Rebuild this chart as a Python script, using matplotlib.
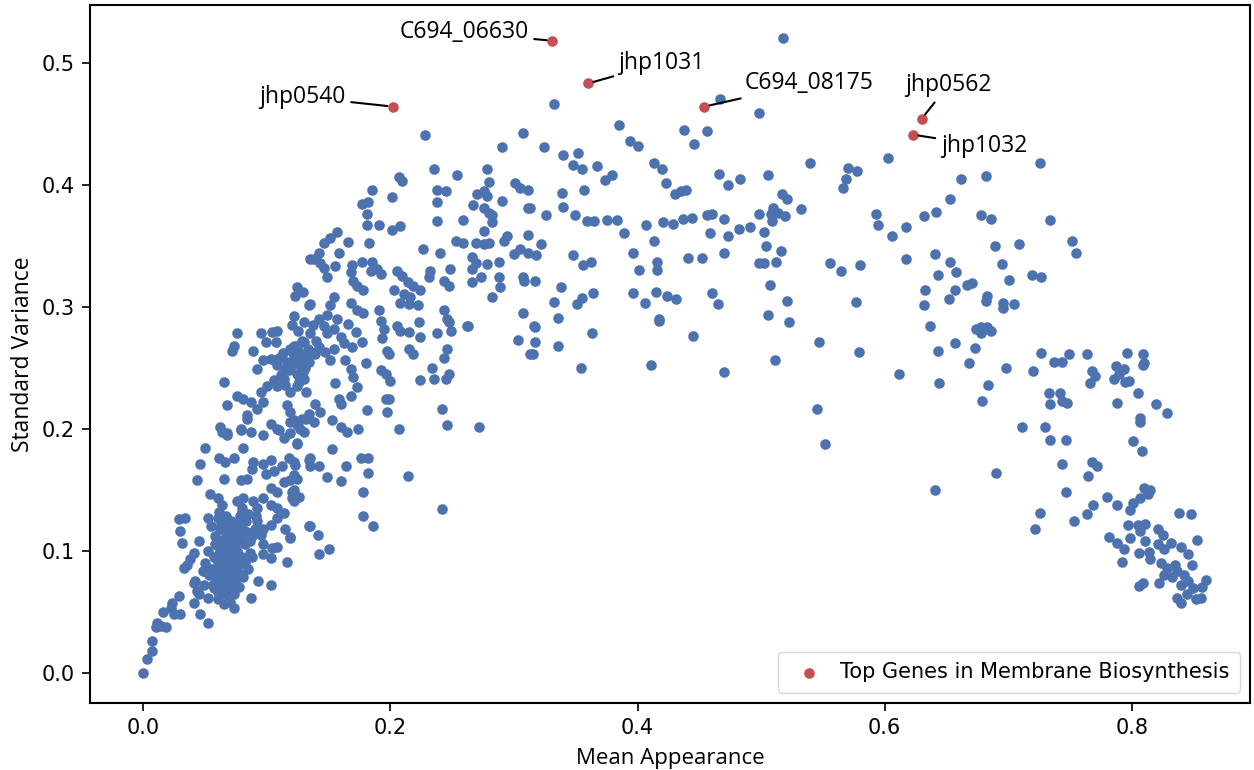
import matplotlib
matplotlib.use("Agg")
import matplotlib.pyplot as plt
import numpy as np

# ---------------- data ----------------
# lower-left ramp
ramp_pts = [(0.000,0.000),(0.003,0.011),(0.007,0.018),(0.007,0.026),(0.010,0.037),(0.014,0.038),
 (0.018,0.037),(0.011,0.041),(0.016,0.050),(0.022,0.053),(0.025,0.048),(0.030,0.048),(0.029,0.063),
 (0.023,0.057),(0.041,0.057),(0.046,0.048),(0.052,0.041),(0.043,0.067),(0.049,0.072),(0.041,0.073),
 (0.045,0.064),(0.052,0.061),(0.060,0.060),(0.065,0.056),(0.070,0.058),(0.073,0.053),(0.057,0.069),
 (0.062,0.068),(0.068,0.067),(0.029,0.126),(0.030,0.116),(0.031,0.106),(0.034,0.127),(0.033,0.086),
 (0.035,0.088),(0.038,0.093),(0.041,0.098),(0.045,0.108),(0.052,0.127),(0.042,0.075),(0.054,0.146),
 (0.060,0.143),(0.064,0.137),(0.061,0.132)]

# dense core near (0.07, 0.10)
core_pts = [(0.055,0.120),(0.058,0.112),(0.062,0.118),(0.066,0.110),(0.060,0.104),(0.064,0.099),
 (0.068,0.104),(0.072,0.108),(0.070,0.096),(0.066,0.090),(0.073,0.092),(0.076,0.100),(0.079,0.112),
 (0.075,0.118),(0.071,0.124),(0.067,0.128),(0.063,0.085),(0.060,0.090),(0.057,0.095),(0.055,0.085),
 (0.058,0.078),(0.062,0.073),(0.067,0.080),(0.071,0.085),(0.076,0.088),(0.078,0.081),(0.074,0.076),
 (0.070,0.070),(0.080,0.095),(0.082,0.105),(0.084,0.115),(0.078,0.123),(0.052,0.100),(0.050,0.090),
 (0.053,0.080),(0.048,0.083),(0.065,0.065),(0.069,0.062),(0.073,0.064),(0.077,0.070),(0.081,0.078),
 (0.085,0.085),(0.088,0.095),(0.086,0.108),(0.090,0.118),(0.091,0.128),(0.085,0.130),(0.080,0.132),
 (0.058,0.105),(0.061,0.097),(0.064,0.108),(0.067,0.115),(0.069,0.100),(0.072,0.094),(0.074,0.104),
 (0.077,0.109),(0.081,0.117),(0.083,0.124),(0.063,0.122),(0.060,0.127),(0.069,0.120),(0.073,0.113),
 (0.076,0.095),(0.079,0.089),(0.074,0.083),(0.070,0.078),(0.066,0.074),(0.061,0.080),(0.059,0.086),
 (0.064,0.092),(0.068,0.088),(0.072,0.080),(0.082,0.090),(0.086,0.098),(0.088,0.112),(0.056,0.072),
 (0.060,0.066),(0.078,0.128)]

# left cluster, 0.05-0.13 / 0.10-0.21
left_low_pts = [(0.050,0.184),(0.046,0.171),(0.043,0.158),(0.061,0.176),(0.066,0.173),(0.073,0.176),
 (0.081,0.184),(0.065,0.159),(0.079,0.158),(0.084,0.159),(0.064,0.197),(0.068,0.195),(0.079,0.199),
 (0.087,0.197),(0.097,0.195),(0.084,0.208),(0.103,0.204),(0.110,0.199),(0.114,0.192),(0.119,0.196),
 (0.124,0.188),(0.118,0.176),(0.122,0.173),(0.112,0.169),(0.106,0.165),(0.099,0.163),(0.097,0.171),
 (0.103,0.174),(0.089,0.173),(0.088,0.167),(0.103,0.151),(0.108,0.148),(0.114,0.156),(0.119,0.158),
 (0.122,0.150),(0.120,0.143),(0.097,0.143),(0.089,0.141),(0.081,0.143),(0.076,0.141),(0.080,0.135),
 (0.092,0.135),(0.103,0.137),(0.108,0.135),(0.114,0.131),(0.108,0.127),(0.103,0.121),(0.097,0.118),
 (0.092,0.124),(0.095,0.113),(0.097,0.105),(0.104,0.102),(0.108,0.103),(0.115,0.118),(0.119,0.111),
 (0.116,0.091),(0.103,0.094),(0.097,0.097),(0.093,0.075),(0.103,0.072),(0.087,0.061),(0.134,0.120),
 (0.124,0.159),(0.126,0.144),(0.134,0.174)]

# left cluster, 0.06-0.14 / 0.19-0.34
left_mid_pts = [(0.135,0.339),(0.134,0.301),(0.122,0.292),(0.076,0.278),(0.073,0.268),(0.072,0.264),
 (0.095,0.278),(0.104,0.279),(0.108,0.280),(0.099,0.271),(0.107,0.271),(0.089,0.264),(0.092,0.249),
 (0.097,0.256),(0.103,0.257),(0.108,0.252),(0.114,0.248),(0.119,0.265),(0.124,0.268),(0.130,0.271),
 (0.122,0.257),(0.127,0.252),(0.132,0.257),(0.065,0.238),(0.068,0.219),(0.076,0.227),(0.081,0.224),
 (0.087,0.222),(0.095,0.230),(0.100,0.235),(0.108,0.235),(0.114,0.241),(0.119,0.230),(0.124,0.235),
 (0.130,0.241),(0.132,0.230),(0.084,0.211),(0.092,0.216),(0.097,0.222),(0.062,0.201),(0.068,0.196),
 (0.079,0.200),(0.108,0.200),(0.119,0.205),(0.124,0.203),(0.130,0.197),(0.132,0.208),(0.116,0.219),
 (0.119,0.214),(0.120,0.285),(0.125,0.280),(0.130,0.287),(0.128,0.272),(0.122,0.268),(0.133,0.265),
 (0.126,0.258),(0.131,0.250),(0.120,0.252),(0.135,0.278),(0.137,0.285),(0.124,0.245),
 (0.110,0.258),(0.113,0.262),(0.116,0.255),(0.118,0.248),(0.121,0.262),(0.125,0.264),(0.128,0.260),
 (0.111,0.244),(0.106,0.240),(0.115,0.236),(0.126,0.238),(0.129,0.246),(0.134,0.255),(0.137,0.262),
 (0.140,0.272)]

# upper-left arc, 0.12-0.31 / 0.28-0.45
arc_pts = [(0.228,0.441),(0.307,0.442),(0.290,0.431),(0.235,0.413),(0.254,0.408),(0.278,0.413),
 (0.207,0.406),(0.209,0.403),(0.280,0.402),(0.301,0.401),(0.305,0.397),(0.311,0.396),(0.185,0.396),
 (0.238,0.396),(0.245,0.395),(0.238,0.386),(0.270,0.392),(0.276,0.395),(0.278,0.391),(0.201,0.390),
 (0.177,0.384),(0.182,0.386),(0.290,0.387),(0.311,0.381),(0.267,0.383),(0.276,0.381),(0.280,0.377),
 (0.282,0.375),(0.181,0.376),(0.181,0.367),(0.191,0.367),(0.201,0.363),(0.208,0.366),(0.238,0.370),
 (0.259,0.371),(0.282,0.369),(0.276,0.362),(0.157,0.361),(0.151,0.356),(0.146,0.352),(0.166,0.353),
 (0.183,0.352),(0.226,0.347),(0.240,0.344),(0.253,0.354),(0.259,0.352),(0.269,0.352),(0.276,0.351),
 (0.280,0.352),(0.294,0.358),(0.292,0.354),(0.311,0.359),(0.305,0.347),(0.300,0.343),(0.311,0.344),
 (0.142,0.344),(0.138,0.339),(0.143,0.336),(0.146,0.332),(0.158,0.344),(0.155,0.333),(0.169,0.334),
 (0.177,0.337),(0.185,0.337),(0.189,0.331),(0.192,0.327),(0.184,0.329),(0.266,0.341),(0.269,0.336),
 (0.266,0.331),(0.278,0.335),(0.288,0.337),(0.232,0.329),(0.231,0.324),(0.248,0.331),(0.205,0.329),
 (0.209,0.325),(0.214,0.320),(0.266,0.320),(0.273,0.324),(0.288,0.324),(0.289,0.316),(0.307,0.324),
 (0.308,0.321),(0.168,0.328),(0.170,0.321),(0.173,0.317),(0.178,0.314),(0.149,0.324),(0.124,0.316),
 (0.129,0.312),(0.123,0.309),(0.135,0.302),(0.154,0.308),(0.151,0.301),(0.203,0.314),(0.211,0.310),
 (0.216,0.308),(0.208,0.303),(0.215,0.302),(0.222,0.301),(0.224,0.314),(0.218,0.317),(0.243,0.321),
 (0.247,0.317),(0.282,0.308),(0.307,0.295),(0.168,0.303),(0.173,0.297),(0.178,0.295),(0.191,0.297),
 (0.243,0.297),(0.246,0.290),(0.142,0.290),(0.149,0.293),(0.157,0.290),(0.262,0.284)]

# middle-left, 0.12-0.32 / 0.09-0.29
mid_pts = [(0.146,0.284),(0.154,0.282),(0.149,0.278),(0.160,0.275),(0.166,0.286),(0.172,0.279),
 (0.177,0.271),(0.169,0.267),(0.162,0.270),(0.154,0.265),(0.147,0.263),(0.142,0.267),(0.139,0.261),
 (0.151,0.256),(0.163,0.256),(0.168,0.249),(0.170,0.242),(0.173,0.234),(0.192,0.288),(0.195,0.282),
 (0.193,0.274),(0.197,0.264),(0.199,0.261),(0.192,0.248),(0.196,0.245),(0.200,0.239),(0.180,0.254),
 (0.205,0.284),(0.208,0.280),(0.215,0.279),(0.223,0.287),(0.224,0.275),(0.215,0.265),(0.218,0.261),
 (0.238,0.278),(0.247,0.287),(0.249,0.280),(0.246,0.265),(0.243,0.258),(0.234,0.250),(0.235,0.241),
 (0.224,0.240),(0.245,0.241),(0.247,0.245),(0.263,0.284),(0.303,0.273),(0.313,0.261),(0.196,0.224),
 (0.199,0.224),(0.197,0.214),(0.181,0.215),(0.207,0.200),(0.242,0.216),(0.246,0.203),(0.272,0.201),
 (0.214,0.161),(0.242,0.134),(0.155,0.237),(0.168,0.227),(0.158,0.224),(0.160,0.220),(0.139,0.220),
 (0.143,0.214),(0.153,0.207),(0.160,0.201),(0.165,0.197),(0.174,0.200),(0.128,0.208),(0.134,0.212),
 (0.138,0.205),(0.122,0.207),(0.127,0.200),(0.124,0.187),(0.153,0.183),(0.135,0.176),(0.142,0.169),
 (0.135,0.169),(0.123,0.170),(0.122,0.162),(0.164,0.169),(0.176,0.176),(0.182,0.176),(0.182,0.164),
 (0.149,0.160),(0.160,0.157),(0.178,0.148),(0.120,0.148),(0.122,0.141),(0.178,0.128),(0.186,0.120),
 (0.135,0.120),(0.141,0.113),(0.150,0.101),(0.142,0.097),(0.119,0.110)]

# centre, 0.30-0.50 / 0.24-0.47
centre_pts = [(0.467,0.470),(0.498,0.459),(0.332,0.466),(0.385,0.449),(0.438,0.445),(0.456,0.444),
 (0.446,0.433),(0.394,0.436),(0.400,0.432),(0.324,0.431),(0.340,0.424),(0.352,0.426),(0.348,0.416),
 (0.355,0.413),(0.367,0.415),(0.374,0.404),(0.379,0.408),(0.413,0.418),(0.420,0.413),(0.423,0.401),
 (0.466,0.409),(0.473,0.400),(0.483,0.405),(0.430,0.392),(0.435,0.395),(0.439,0.396),(0.339,0.393),
 (0.357,0.396),(0.313,0.381),(0.326,0.375),(0.340,0.382),(0.349,0.375),(0.359,0.370),(0.365,0.370),
 (0.375,0.371),(0.383,0.371),(0.407,0.367),(0.421,0.369),(0.429,0.368),(0.437,0.372),(0.444,0.373),
 (0.456,0.375),(0.460,0.376),(0.470,0.372),(0.482,0.364),(0.491,0.365),(0.498,0.376),(0.389,0.360),
 (0.413,0.354),(0.459,0.360),(0.473,0.358),(0.322,0.351),(0.318,0.342),(0.348,0.342),(0.356,0.334),
 (0.362,0.337),(0.396,0.344),(0.416,0.337),(0.416,0.330),(0.401,0.330),(0.441,0.340),(0.452,0.340),
 (0.470,0.344),(0.498,0.336),(0.317,0.321),(0.338,0.316),(0.332,0.304),(0.351,0.302),(0.355,0.307),
 (0.364,0.311),(0.336,0.291),(0.396,0.311),(0.406,0.303),(0.415,0.312),(0.424,0.309),(0.431,0.306),
 (0.417,0.290),(0.460,0.311),(0.465,0.302),(0.316,0.284),(0.317,0.283),(0.317,0.271),(0.315,0.261),
 (0.336,0.268),(0.363,0.278),(0.354,0.250),(0.417,0.288),(0.411,0.252),(0.445,0.276),(0.470,0.246)]

# right-centre, 0.50-0.70 / 0.15-0.52
right_pts = [(0.518,0.520),(0.540,0.418),(0.603,0.422),(0.506,0.408),(0.570,0.414),(0.578,0.411),
 (0.569,0.405),(0.566,0.397),(0.662,0.405),(0.682,0.407),(0.653,0.388),(0.517,0.392),(0.521,0.388),
 (0.510,0.381),(0.508,0.376),(0.514,0.377),(0.519,0.374),(0.509,0.370),(0.532,0.380),(0.502,0.361),
 (0.504,0.350),(0.516,0.346),(0.502,0.336),(0.512,0.337),(0.507,0.318),(0.521,0.305),(0.506,0.293),
 (0.523,0.287),(0.556,0.336),(0.565,0.329),(0.580,0.334),(0.577,0.304),(0.593,0.376),(0.595,0.367),
 (0.606,0.358),(0.617,0.365),(0.617,0.339),(0.632,0.374),(0.642,0.378),(0.678,0.375),(0.686,0.372),
 (0.689,0.350),(0.641,0.343),(0.653,0.337),(0.643,0.326),(0.658,0.328),(0.633,0.314),(0.632,0.301),
 (0.657,0.314),(0.652,0.306),(0.667,0.318),(0.671,0.319),(0.683,0.309),(0.682,0.305),(0.637,0.284),
 (0.678,0.283),(0.683,0.283),(0.547,0.271),(0.511,0.256),(0.579,0.263),(0.612,0.245),(0.545,0.216),
 (0.552,0.187),(0.641,0.150),(0.643,0.264),(0.657,0.270),(0.673,0.266),(0.668,0.254),(0.674,0.282),
 (0.680,0.282),(0.686,0.280),(0.678,0.278),(0.644,0.237),(0.684,0.236),(0.679,0.223),(0.690,0.164)]

# right tail, 0.69-0.87 / 0.05-0.42
tail_pts = [(0.726,0.418),(0.734,0.371),(0.709,0.351),(0.752,0.354),(0.755,0.344),(0.695,0.335),
 (0.701,0.322),(0.719,0.326),(0.727,0.324),(0.696,0.303),(0.696,0.299),(0.705,0.302),(0.727,0.262),
 (0.737,0.255),(0.744,0.255),(0.749,0.261),(0.764,0.261),(0.768,0.247),(0.770,0.243),(0.766,0.237),
 (0.698,0.250),(0.720,0.247),(0.796,0.262),(0.809,0.261),(0.810,0.254),(0.809,0.252),(0.787,0.251),
 (0.794,0.249),(0.790,0.245),(0.786,0.241),(0.795,0.238),(0.798,0.239),(0.733,0.229),(0.734,0.220),
 (0.742,0.229),(0.744,0.223),(0.748,0.221),(0.788,0.221),(0.805,0.229),(0.820,0.220),(0.829,0.213),
 (0.807,0.209),(0.807,0.205),(0.711,0.201),(0.730,0.201),(0.734,0.191),(0.747,0.191),(0.801,0.190),
 (0.808,0.182),(0.744,0.171),(0.768,0.173),(0.772,0.169),(0.765,0.161),(0.747,0.148),(0.726,0.131),
 (0.722,0.118),(0.753,0.124),(0.764,0.130),(0.769,0.137),(0.780,0.144),(0.788,0.137),(0.810,0.151),
 (0.815,0.150),(0.813,0.146),(0.807,0.143),(0.801,0.139),(0.799,0.133),(0.838,0.131),(0.848,0.130),
 (0.853,0.109),(0.797,0.121),(0.805,0.121),(0.811,0.122),(0.821,0.118),(0.825,0.113),(0.782,0.111),
 (0.788,0.106),(0.794,0.101),(0.792,0.091),(0.799,0.110),(0.807,0.116),(0.811,0.108),(0.806,0.098),
 (0.814,0.099),(0.815,0.093),(0.821,0.105),(0.826,0.101),(0.832,0.106),(0.840,0.103),(0.846,0.097),
 (0.849,0.088),(0.824,0.090),(0.829,0.086),(0.835,0.088),(0.837,0.083),(0.833,0.078),(0.826,0.080),
 (0.842,0.080),(0.840,0.072),(0.846,0.075),(0.850,0.069),(0.845,0.064),(0.837,0.061),(0.840,0.057),
 (0.852,0.060),(0.856,0.061),(0.860,0.076),(0.857,0.070),(0.822,0.073),(0.809,0.073),(0.806,0.071)]

# highlighted genes
top_genes = ["jhp0540", "C694_06630", "jhp1031", "C694_08175", "jhp0562", "jhp1032"]
top_x = [0.202, 0.331, 0.360, 0.454, 0.630, 0.623]
top_y = [0.464, 0.518, 0.483, 0.464, 0.454, 0.441]

legend_label = "Top Genes in Membrane Biosynthesis"
x_label = "Mean Appearance"
y_label = "Standard Variance"

# ---------------- plotting ----------------
all_pts = (ramp_pts + core_pts + left_low_pts + left_mid_pts + arc_pts + mid_pts
           + centre_pts + right_pts + tail_pts)
bx = [p[0] for p in all_pts]
by = [p[1] for p in all_pts]

BLUE = "#4C72B0"
RED = "#C44E52"
LABEL_FONT = ["Open Sans", "DejaVu Sans"]

fig = plt.figure(figsize=(12.54, 7.70), dpi=100)
ax = fig.add_axes([0.072, 0.087, 0.925, 0.906])

ax.scatter(bx, by, s=58, color=BLUE, linewidths=0, zorder=2)
ax.scatter(top_x, top_y, s=58, color=RED, linewidths=0, zorder=3, label=legend_label)

# annotation offsets in points and alignment
offsets = [(-34, 7, "right"), (-17, 6, "right"), (22, 15, "left"),
           (29, 17, "left"), (19, 24, "center"), (20, -8, "left")]
for name, xv, yv, (dx, dy, ha) in zip(top_genes, top_x, top_y, offsets):
    ax.annotate(name, xy=(xv, yv), xytext=(dx, dy), textcoords="offset points",
                ha=ha, va="center", fontsize=16.5, family=LABEL_FONT,
                arrowprops=dict(arrowstyle="-", color="black", lw=1.5,
                                shrinkA=2, shrinkB=4))

ax.set_xlim(-0.043, 0.896)
ax.set_ylim(-0.025, 0.547)
ax.set_xticks([0.0, 0.2, 0.4, 0.6, 0.8])
ax.set_yticks([0.0, 0.1, 0.2, 0.3, 0.4, 0.5])
ax.tick_params(labelsize=15, length=6, width=1.2, pad=5)
for sp in ax.spines.values():
    sp.set_linewidth(1.5)

ax.set_xlabel(x_label, fontsize=16, family=LABEL_FONT)
ax.set_ylabel(y_label, fontsize=16.5, family=LABEL_FONT)
ax.xaxis.set_label_coords(0.5, -0.064)
ax.yaxis.set_label_coords(-0.048, 0.5)

ax.legend(loc="lower right", fontsize=15, frameon=True, handletextpad=0.5,
          borderpad=0.5, markerscale=1.0)

fig.savefig("out.png", dpi=100)
